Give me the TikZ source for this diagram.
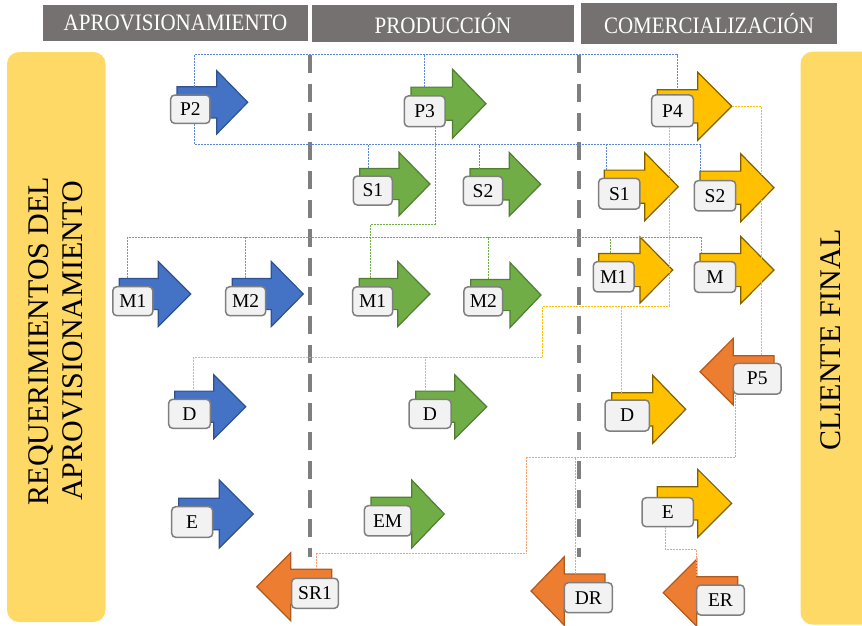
\documentclass[tikz,border=0pt]{standalone}
\usepackage{fontspec}
\setmainfont{Liberation Serif}
\definecolor{hdrgray}{HTML}{767171}
\definecolor{panelyel}{HTML}{FFD966}
\definecolor{sepgray}{HTML}{7F7F7F}
\definecolor{lblfill}{HTML}{F2F2F2}
\definecolor{lbldraw}{HTML}{7F7F7F}
\definecolor{bluef}{HTML}{4472C4}
\definecolor{blued}{HTML}{2F528F}
\definecolor{greenf}{HTML}{70AD47}
\definecolor{greend}{HTML}{507E32}
\definecolor{yellowf}{HTML}{FFC000}
\definecolor{yellowd}{HTML}{7F6000}
\definecolor{orangef}{HTML}{ED7D31}
\definecolor{oranged}{HTML}{AE5A21}
\definecolor{bluel}{HTML}{5B87D6}
\definecolor{greenl}{HTML}{70AD47}
\definecolor{yellowl}{HTML}{FFC000}
\definecolor{orangel}{HTML}{F4A06A}
\tikzset{
  % block arrow pointing right; origin at the middle of the tail
  pics/rarr/.style n args={4}{code={
    \path[pic actions] (0,-#4) -- ({#1-#2},-#4) -- ({#1-#2},-#3) -- (#1,0)
      -- ({#1-#2},#3) -- ({#1-#2},#4) -- (0,#4) -- cycle;
    \coordinate (-tl) at (0,-#4);
    \coordinate (-tip) at (#1,0);
  }},
  % block arrow pointing left; origin at the tip
  pics/larr/.style n args={4}{code={
    \path[pic actions] (0,0) -- (#2,-#3) -- (#2,-#4) -- (#1,-#4) -- (#1,#4)
      -- (#2,#4) -- (#2,#3) -- cycle;
    \coordinate (-tr) at (#1,-#4);
    \coordinate (-tip) at (0,0);
  }},
  bluearr/.style={fill=bluef, draw=blued, line width=1.2pt, line join=miter},
  greenarr/.style={fill=greenf, draw=greend, line width=1.2pt, line join=miter},
  yellowarr/.style={fill=yellowf, draw=yellowd, line width=1.2pt, line join=miter},
  orangearr/.style={fill=orangef, draw=oranged, line width=1.2pt, line join=miter},
  lbl/.style={fill=lblfill, draw=lbldraw, line width=1.5pt, rounded corners=4pt,
    minimum width=40pt, minimum height=29pt, inner sep=0pt,
    font=\fontsize{19.5}{21}\selectfont},
  hdr/.style={fill=hdrgray, text=white, inner sep=0pt,
    font=\fontsize{21}{24}\selectfont},
  paneltext/.style={rotate=90, align=center, inner sep=0pt,
    font=\fontsize{30}{34}\selectfont},
  sepline/.style={draw=sepgray, line width=4pt, dash pattern=on 18pt off 11pt},
  link/.style={line width=0.8pt, dash pattern=on 2pt off 1pt},
  bluelink/.style={link, draw=bluel},
  greenlink/.style={link, draw=greenl},
  yellowlink/.style={link, draw=yellowl},
  orangelink/.style={link, draw=orangel},
}
\newcommand{\tallcaps}[1]{\scalebox{1}[1.12]{#1}}
\begin{document}
\begin{tikzpicture}[x=1pt, y=-1pt]
\useasboundingbox (0,0) rectangle (862,625);

% stage headers
\node[hdr, minimum width=265pt, minimum height=36pt] (hApro) at (175.5,23) {\tallcaps{APROVISIONAMIENTO}};
\node[hdr, minimum width=262pt, minimum height=37pt] (hProd) at (443,23.5) {\tallcaps{PRODUCCIÓN}};
\node[hdr, minimum width=256pt, minimum height=41pt] (hCom) at (709,23.5) {\tallcaps{COMERCIALIZACIÓN}};

% side panels
\fill[panelyel, rounded corners=12pt] (7,52) rectangle (105.5,622);
\node[paneltext] (tReq) at (56,341) {REQUERIMIENTOS DEL\\APROVISIONAMIENTO};
\begin{scope}
  \clip (0,0) rectangle (862,625);
  \fill[panelyel, rounded corners=12pt] (800.5,51.7) rectangle (880,624.5);
\end{scope}
\node[paneltext] (tCli) at (830.5,340) {CLIENTE FINAL};

% stage separators
\coordinate (sepAt) at (310,55);
\coordinate (sepAb) at (310,557);
\coordinate (sepBt) at (579.3,55);
\coordinate (sepBb) at (579.3,557);
\draw[sepline] (sepAt) -- (sepAb);
\draw[sepline] (sepBt) -- (sepBb);

% arrows: aprovisionamiento
\pic[bluearr] (P2)  at (177,102.3)   {rarr={70.7}{31}{31.7}{15.6}};
\pic[bluearr] (M1b) at (119.3,294)   {rarr={71.4}{32.4}{32.5}{15.6}};
\pic[bluearr] (M2b) at (232.3,294)   {rarr={71}{32}{32.5}{15.6}};
\pic[bluearr] (Db)  at (174.7,406.7) {rarr={71}{32}{32}{15.6}};
\pic[bluearr] (Eb)  at (178.7,514)   {rarr={74.6}{34}{34}{15.7}};
% arrows: produccion
\pic[greenarr] (P3)  at (411,103.7)   {rarr={75}{33.5}{34.5}{16.6}};
\pic[greenarr] (S1g) at (359.7,184)   {rarr={70.3}{31}{31.7}{15.6}};
\pic[greenarr] (S2g) at (470,184.3)   {rarr={70.7}{31.4}{31.7}{15.6}};
\pic[greenarr] (M1g) at (359.3,294)   {rarr={70.7}{32.3}{32.5}{15.6}};
\pic[greenarr] (M2g) at (470.7,295)   {rarr={70.3}{31}{32.5}{15.6}};
\pic[greenarr] (Dg)  at (415.7,406.7) {rarr={71}{32}{32}{15.6}};
\pic[greenarr] (EM)  at (371,514)     {rarr={73.3}{32.6}{34}{16.7}};
% arrows: comercializacion
\pic[yellowarr] (P4)  at (657.3,106.3) {rarr={74.4}{34}{34}{16.6}};
\pic[yellowarr] (S1y) at (604.3,186.7) {rarr={74}{33.6}{34}{16.6}};
\pic[yellowarr] (S2y) at (700,187.7)   {rarr={74}{33.3}{34}{16.6}};
\pic[yellowarr] (M1y) at (598.7,270)   {rarr={74}{32.7}{33}{16.6}};
\pic[yellowarr] (My)  at (700,270)     {rarr={74}{33.3}{33.5}{16.6}};
\pic[yellowarr] (Dy)  at (611.7,409.3) {rarr={74}{33}{34}{16.6}};
\pic[yellowarr] (Ey)  at (657.3,503.3) {rarr={74.4}{34}{34}{16.6}};
% return arrows
\pic[orangearr] (P5)  at (700,371.7)   {larr={74}{33.3}{33.4}{16}};
\pic[orangearr] (SR1) at (256.7,586.7) {larr={75}{34}{34}{17.4}};
\pic[orangearr] (DR)  at (531,591)     {larr={74}{33.3}{34.3}{17}};
\pic[orangearr] (ER)  at (663.3,592.7) {larr={74.4}{33.4}{33.4}{16}};

% labels
\node[lbl, minimum width=39.3pt, minimum height=28.3pt] (lP2) at (190.3,109.2) {P2};
\node[lbl] (lM1b) at (132.8,301.2) {M1};
\node[lbl] (lM2b) at (245.7,301.2) {M2};
\node[lbl, minimum width=41.6pt] (lDb) at (189.5,413.8) {D};
\node[lbl, minimum width=41pt, minimum height=30.6pt] (lEb) at (192.2,522) {E};
\node[lbl, minimum width=40.7pt, minimum height=30.7pt] (lP3) at (424.7,111.3) {P3};
\node[lbl, minimum width=39pt] (lS1g) at (372.8,190.5) {S1};
\node[lbl, minimum width=39.4pt] (lS2g) at (483,190.8) {S2};
\node[lbl] (lM1g) at (372.7,301.3) {M1};
\node[lbl, minimum width=38.7pt] (lM2g) at (483.3,301.3) {M2};
\node[lbl, minimum width=42pt] (lDg) at (430,413.8) {D};
\node[lbl, minimum width=46.7pt, minimum height=30.3pt] (lEM) at (387.7,520.8) {EM};
\node[lbl, minimum width=41.6pt, minimum height=31.7pt] (lP4) at (672.5,110.8) {P4};
\node[lbl, minimum width=41.3pt, minimum height=30.7pt] (lS1y) at (619.3,193.7) {S1};
\node[lbl, minimum width=41.4pt, minimum height=30.3pt] (lS2y) at (715,195.8) {S2};
\node[lbl, minimum width=40.7pt, minimum height=30.3pt] (lM1y) at (613.7,276.8) {M1};
\node[lbl, minimum width=41.4pt, minimum height=30.6pt] (lMy) at (715,277) {M};
\node[lbl, minimum width=44.3pt, minimum height=31pt] (lDy) at (627.2,415.5) {D};
\node[lbl, minimum width=51.3pt, minimum height=29pt] (lEy) at (667.7,512.2) {E};
\node[lbl, minimum width=47.7pt, minimum height=30.7pt] (lP5) at (757.2,378.7) {P5};
\node[lbl, minimum width=46.7pt, minimum height=30pt] (lSR1) at (315,593.3) {SR1};
\node[lbl, minimum width=48pt, minimum height=30pt] (lDR) at (588.3,597.7) {DR};
\node[lbl, minimum width=47.6pt, minimum height=30pt] (lER) at (720.5,600) {ER};

% attachment points on arrows and labels
\coordinate (jP2a) at ([shift={(17.3,0)}]P2-tl);
\coordinate (jP2b) at ([shift={(4,0)}]lP2.south);
\coordinate (jP3)  at ([shift={(13,0)}]P3-tl);
\coordinate (jP3b) at ([shift={(10.3,0)}]lP3.south);
\coordinate (jP4)  at ([shift={(19.7,0)}]P4-tl);
\coordinate (jP4b) at ([shift={(-3.5,0)}]lP4.south);
\coordinate (jS1g) at ([shift={(9,0)}]S1g-tl);
\coordinate (jS2g) at ([shift={(9.3,0)}]S2g-tl);
\coordinate (jS1y) at ([shift={(1.7,0)}]S1y-tl);
\coordinate (jS2y) at ([shift={(0.3,0)}]S2y-tl);
\coordinate (jM1b) at ([shift={(8.4,0)}]M1b-tl);
\coordinate (jM2b) at ([shift={(12.7,0)}]M2b-tl);
\coordinate (jM1g) at ([shift={(11.4,0)}]M1g-tl);
\coordinate (jM2g) at ([shift={(17.6,0)}]M2g-tl);
\coordinate (jM1y) at ([shift={(11.3,0)}]M1y-tl);
\coordinate (jMy)  at ([shift={(1.7,0)}]My-tl);
\coordinate (jDb)  at ([shift={(18.6,0)}]Db-tl);
\coordinate (jDg)  at ([shift={(9.3,0)}]Dg-tl);
\coordinate (jDy)  at ([shift={(10,0)}]Dy-tl);
\coordinate (jP5)  at ([shift={(-13,0)}]P5-tr);
\coordinate (jP5b) at ([shift={(2.4,0)}]lP5.south west);
\coordinate (jSR1) at ([shift={(-15,0)}]SR1-tr);
\coordinate (jDR)  at ([shift={(-30,0)}]DR-tr);
\coordinate (jEy)  at ([shift={(-2.7,0)}]lEy.south);
\coordinate (jER)  at ([shift={(-41,0)}]ER-tr);

% routing levels
\coordinate (blueTop) at (0,54.7);
\coordinate (blueBot) at (0,144.5);
\coordinate (greenStep) at (0,224.5);
\coordinate (greenRow) at (0,237.3);
\coordinate (yelJog) at (542.3,306);
\coordinate (yelRow) at (0,357);
\coordinate (orJog) at (526.7,457.7);
\coordinate (orRow) at (0,553.5);
\coordinate (erRow) at (0,549.3);

% blue links
\draw[bluelink] (jP2a) -- (jP2a |- blueTop) -| (jP4);
\draw[bluelink] (jP3) -- (jP3 |- blueTop);
\draw[bluelink] (jP2b) -- (jP2b |- blueBot) -| (jS2y);
\draw[bluelink] (jS1g) -- (jS1g |- blueBot);
\draw[bluelink] (jS2g) -- (jS2g |- blueBot);
\draw[bluelink] (jS1y) -- (jS1y |- blueBot);
% green links
\draw[greenlink] (jP3b) -- (jP3b |- greenStep) -| (jM1g);
\draw[greenlink] (jM1b) -- (jM1b |- greenRow) -| (jMy);
\draw[greenlink] (jM2b) -- (jM2b |- greenRow);
\draw[greenlink] (jM2g) -- (jM2g |- greenRow);
\draw[greenlink] (jM1y) -- (jM1y |- greenRow);
% yellow links
\draw[yellowlink] (jP4b) |- (yelJog) -- (yelJog |- yelRow) -| (jDb);
\draw[yellowlink] (jDg) -- (jDg |- yelRow);
\draw[yellowlink] (jDy) -- (jDy |- yelJog);
\draw[yellowlink] (P4-tip) -| (jP5);
% orange links
\draw[orangelink] (jP5b) |- (orJog) -- (orJog |- orRow) -| (jSR1);
\draw[orangelink] (jDR) -- (jDR |- orJog);
\draw[orangelink] (jEy) -- (jEy |- erRow) -| (jER);
\end{tikzpicture}
\end{document}
